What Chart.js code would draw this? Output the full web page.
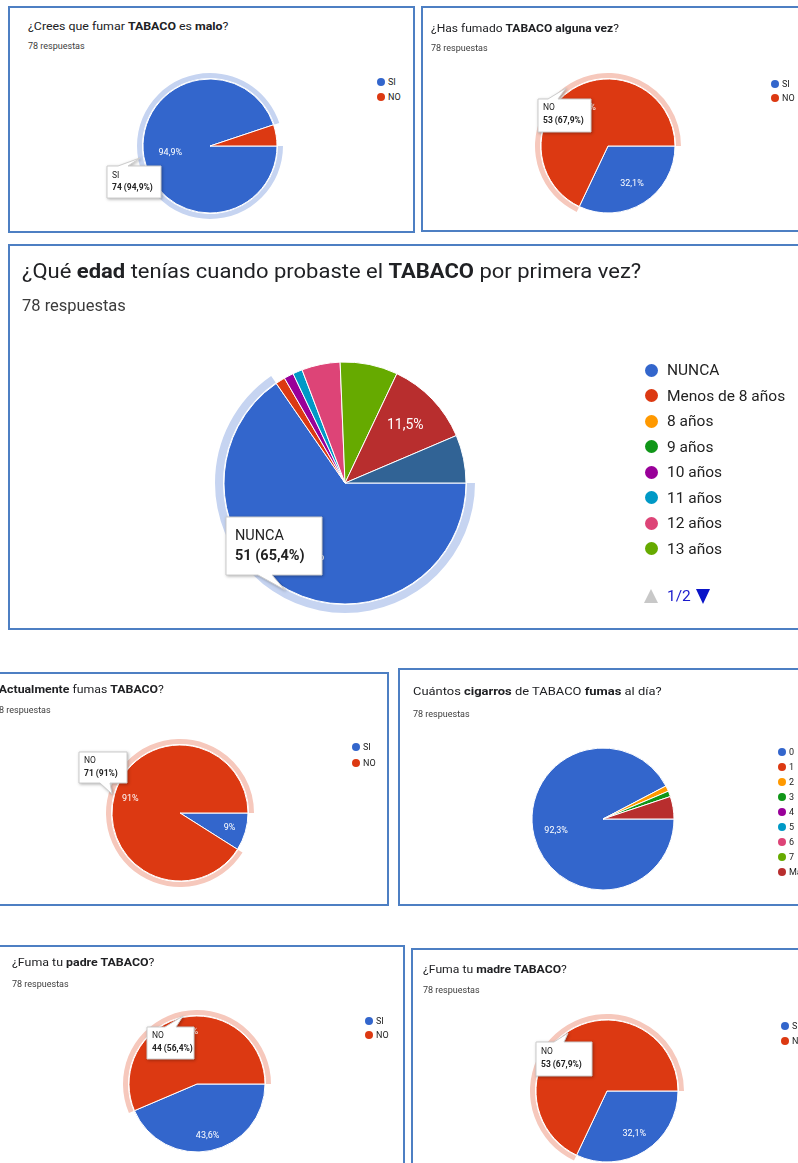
<!DOCTYPE html>
<html>
<head>
<meta charset="utf-8">
<script src="https://cdn.jsdelivr.net/npm/chart.js@4.4.1/dist/chart.umd.min.js"></script>
<style>
  html, body { margin: 0; padding: 0; background: #fff; }
  body { width: 798px; height: 1163px; overflow: hidden; position: relative; font-family: Roboto, Arial, sans-serif; color: #202124; }
  .panel { position: absolute; box-sizing: border-box; border: 2px solid #4d7fc3; background: #fff; }
  .title { position: absolute; white-space: nowrap; transform-origin: 0 50%; }
  .sub { position: absolute; white-space: nowrap; color: #3c3c3c; transform: translateY(-50%); }
  .leg { position: absolute; white-space: nowrap; color: #222; transform: translateY(-50%); }
  .dot { position: absolute; border-radius: 50%; }
  canvas { position: absolute; }
  svg.tip { position: absolute; left: 0; top: 0; overflow: visible; filter: drop-shadow(1px 1px 1.5px rgba(0,0,0,0.3)); }
</style>
</head>
<body>
<script>
// Data
const siNo = ["SI", "NO"];
const maloValues = [74, 4];
const fumadoValues = [25, 53];
const edadLabels = ["NUNCA", "Menos de 8 años", "8 años", "9 años", "10 años", "11 años", "12 años", "13 años", "14 años", "15 años"];
const edadValues = [51, 1, 0, 0, 1, 1, 4, 6, 9, 5];
const actualValues = [7, 71];
const cigarrosLabels = ["0", "1", "2", "3", "4", "5", "6", "7", "Más de 7"];
const cigarrosValues = [72, 0, 1, 1, 0, 0, 0, 0, 4];
const padreValues = [34, 44];
const madreValues = [25, 53];
const titles = [
  "¿Crees que fumar <b>TABACO</b> es <b>malo</b>?",
  "¿Has fumado <b>TABACO alguna vez</b>?",
  "¿Qué <b>edad</b> tenías cuando probaste el <b>TABACO</b> por primera vez?",
  "¿<b>Actualmente</b> fumas <b>TABACO</b>?",
  "Cuántos <b>cigarros</b> de TABACO <b>fumas</b> al día?",
  "¿Fuma tu <b>padre TABACO</b>?",
  "¿Fuma tu <b>madre TABACO</b>?"
];
const respuestas = "78 respuestas";
const palette = ["#3366cc", "#dc3912", "#ff9900", "#109618", "#990099", "#0099c6", "#dd4477", "#66aa00", "#b82e2e", "#316395"];

const blueRing = "#c6d4f1", redRing = "#f6c8bc";

// Layout of each panel
const panels = [
  { box: [8, 6, 407, 227], title: titles[0], tx: 28, ty: 26, ts: 11, tw: 200, sy: 46, ss: 9,
    labels: siNo, values: maloValues,
    pie: { cx: 210, cy: 146, r: 67, ring: 0, ringW: 6, ringC: blueRing, lf: 0.6, fs: 9 },
    legend: { dx: 381, lx: 388, y: 82, step: 15, fs: 9, dr: 4.2, n: 2 },
    tip: { box: [107, 166, 54, 32], edge: "top", p: [118, 128, 140, 158], fs: 8.5, idx: 0, l1: 176, l2: 188 } },
  { box: [421, 6, 420, 226], title: titles[1], tx: 431, ty: 28, ts: 11, tw: 188, sy: 48, ss: 9,
    labels: siNo, values: fumadoValues,
    pie: { cx: 608, cy: 146, r: 67, ring: 1, ringW: 6, ringC: redRing, lf: 0.67, fs: 9 },
    legend: { dx: 775, lx: 782, y: 84, step: 14, fs: 9, dr: 4.2, n: 2 },
    tip: { box: [538, 99, 53, 33], edge: "top", p: [548, 558, 566, 88], fs: 8.5, idx: 1, l1: 108, l2: 121 } },
  { box: [8, 244, 820, 386], title: titles[2], tx: 22, ty: 271, ts: 20, tw: 619, sy: 305, ss: 16.5,
    labels: edadLabels, values: edadValues,
    pie: { cx: 345, cy: 483, r: 121, ring: 0, ringW: 9, ringC: blueRing, lf: 0.69, fs: 14 },
    legend: { dx: 651, lx: 667, y: 370, step: 25.5, fs: 15.5, dr: 6.5, n: 8 },
    tip: { box: [226, 517, 96, 58], edge: "bottom", p: [258, 272, 285, 590], fs: 14.5, idx: 0, l1: 536, l2: 556 } },
  { box: [-20, 672, 409, 234], title: titles[3], tx: -7, ty: 689, ts: 11, tw: 171, sy: 710, ss: 9, sx: -6,
    labels: siNo, values: actualValues,
    pie: { cx: 180, cy: 813, r: 68, ring: 1, ringW: 6, ringC: redRing, lf: 0.76, fs: 9 },
    legend: { dx: 356, lx: 363, y: 747, step: 16, fs: 9, dr: 4.2, n: 2 },
    tip: { box: [79, 752, 48, 31], edge: "bottom", p: [100, 110, 112, 794], fs: 8.5, idx: 1, l1: 761, l2: 774 } },
  { box: [398, 668, 420, 238], title: titles[4], tx: 413, ty: 691, ts: 11, tw: 248, sy: 714, ss: 9,
    labels: cigarrosLabels, values: cigarrosValues,
    pie: { cx: 603, cy: 819, r: 71, ring: -1, lf: 0.68, fs: 9 },
    legend: { dx: 782, lx: 789, y: 752, step: 15, fs: 9, dr: 4.2, n: 9 } },
  { box: [-20, 945, 425, 260], title: titles[5], tx: 12, ty: 962, ts: 11, tw: 143, sy: 984, ss: 9,
    labels: siNo, values: padreValues,
    pie: { cx: 197, cy: 1084, r: 68, ring: 1, ringW: 6, ringC: redRing, lf: 0.78, fs: 9 },
    legend: { dx: 369, lx: 376, y: 1021, step: 14, fs: 9, dr: 4.2, n: 2 },
    tip: { box: [147, 1027, 47, 32], edge: "top", p: [165, 176, 183, 1016], fs: 8.5, idx: 1, l1: 1036, l2: 1049 } },
  { box: [411, 948, 420, 260], title: titles[6], tx: 423, ty: 969, ts: 11, tw: 144, sy: 990, ss: 9,
    labels: siNo, values: madreValues,
    pie: { cx: 607, cy: 1091, r: 71, ring: 1, ringW: 6, ringC: redRing, lf: 0.72, fs: 9 },
    legend: { dx: 785, lx: 792, y: 1026, step: 15, fs: 9, dr: 4.2, n: 2 },
    tip: { box: [536, 1042, 56, 34], edge: "top", p: [554, 564, 568, 1033], fs: 8.5, idx: 1, l1: 1052, l2: 1065 } }
];

function pctText(v, total) {
  const p = Math.round(v / total * 1000) / 10;
  return String(p).replace(".", ",") + "%";
}

function add(tag, cls, css, html) {
  const el = document.createElement(tag);
  if (cls) el.className = cls;
  Object.assign(el.style, css);
  if (html !== undefined) el.innerHTML = html;
  document.body.appendChild(el);
  return el;
}

// ring + percentage labels, using the arc geometry from Chart.js
function piePlugin(p) {
  return {
    id: "gforms",
    beforeDatasetsDraw(chart) {
      if (p.ring < 0) return;
      const arc = chart.getDatasetMeta(0).data[p.ring];
      const { x, y, startAngle, endAngle, outerRadius } = arc.getProps(["x", "y", "startAngle", "endAngle", "outerRadius"], true);
      const ctx = chart.ctx;
      ctx.save();
      ctx.fillStyle = p.ringC;
      ctx.beginPath();
      ctx.arc(x, y, outerRadius + p.ringW, startAngle, endAngle);
      ctx.arc(x, y, outerRadius + 1, endAngle, startAngle, true);
      ctx.closePath();
      ctx.fill();
      ctx.restore();
    },
    afterDatasetsDraw(chart) {
      const ctx = chart.ctx;
      const vals = chart.data.datasets[0].data;
      const total = vals.reduce((a, b) => a + b, 0);
      ctx.save();
      ctx.fillStyle = "#fff";
      ctx.font = p.fs + "px Roboto, Arial, sans-serif";
      ctx.textAlign = "center";
      ctx.textBaseline = "middle";
      chart.getDatasetMeta(0).data.forEach((arc, i) => {
        if (vals[i] / total < 0.085) return;
        const { x, y, startAngle, endAngle, outerRadius } = arc.getProps(["x", "y", "startAngle", "endAngle", "outerRadius"], true);
        const mid = (startAngle + endAngle) / 2;
        ctx.fillText(pctText(vals[i], total), x + Math.cos(mid) * outerRadius * p.lf, y + Math.sin(mid) * outerRadius * p.lf);
      });
      ctx.restore();
    }
  };
}

function drawTip(t, labels, values) {
  const total = values.reduce((a, b) => a + b, 0);
  const [x, y, w, h] = t.box;
  const [p1, p2, tx, ty] = t.p;
  let pts;
  if (t.edge === "top") {
    pts = [[x, y], [p1, y], [tx, ty], [p2, y], [x + w, y], [x + w, y + h], [x, y + h]];
  } else {
    pts = [[x, y], [x + w, y], [x + w, y + h], [p2, y + h], [tx, ty], [p1, y + h], [x, y + h]];
  }
  const pad = Math.round(t.fs * 0.6);
  const svg = `<svg class="tip" width="798" height="1163">
    <polygon points="${pts.map(q => q.join(",")).join(" ")}" fill="#fff" stroke="#cccccc" stroke-width="1"/>
    <text x="${x + pad}" y="${t.l1}" dominant-baseline="middle" font-size="${t.fs}" fill="#222">${labels[t.idx]}</text>
    <text x="${x + pad}" y="${t.l2}" dominant-baseline="middle" font-size="${t.fs}" font-weight="bold" fill="#222">${values[t.idx]} (${pctText(values[t.idx], total)})</text>
  </svg>`;
  return add("div", "", { position: "absolute", left: "0", top: "0" }, svg);
}

panels.forEach(pn => {
  const [bx, by, bw, bh] = pn.box;
  add("div", "panel", { left: bx + "px", top: by + "px", width: bw + "px", height: bh + "px" });

  const t = add("div", "title", { left: pn.tx + "px", top: pn.ty + "px", fontSize: pn.ts + "px" }, pn.title);
  const sc = pn.tw / t.offsetWidth;
  t.style.transform = `translateY(-50%) scaleX(${sc})`;

  add("div", "sub", { left: (pn.sx !== undefined ? pn.sx : pn.tx) + "px", top: pn.sy + "px", fontSize: pn.ss + "px" }, respuestas);

  const p = pn.pie;
  const half = p.r + (p.ringW || 0) + 4;
  const cv = add("canvas", "", { left: (p.cx - half) + "px", top: (p.cy - half) + "px" });
  cv.width = half * 2;
  cv.height = half * 2;

  new Chart(cv, {
    type: "pie",
    data: {
      labels: pn.labels,
      datasets: [{
        data: pn.values,
        backgroundColor: palette.slice(0, pn.values.length),
        borderColor: "#fff",
        borderWidth: 1,
        hoverOffset: 0
      }]
    },
    options: {
      responsive: false,
      animation: false,
      events: [],
      rotation: 90,
      radius: p.r,
      layout: { padding: 0 },
      plugins: { legend: { display: false }, tooltip: { enabled: false } }
    },
    plugins: [piePlugin(p)]
  });

  const lg = pn.legend;
  pn.labels.slice(0, lg.n).forEach((lab, i) => {
    const yy = lg.y + i * lg.step;
    add("span", "dot", { left: (lg.dx - lg.dr) + "px", top: (yy - lg.dr) + "px", width: lg.dr * 2 + "px", height: lg.dr * 2 + "px", background: palette[i] });
    add("div", "leg", { left: lg.lx + "px", top: yy + "px", fontSize: lg.fs + "px" }, lab);
  });

  if (pn.tip) drawTip(pn.tip, pn.labels, pn.values);
});

// pager of the big legend
add("div", "", { position: "absolute", left: "644px", top: "589px", width: "0", height: "0",
  borderLeft: "7px solid transparent", borderRight: "7px solid transparent", borderBottom: "14px solid #c8c8c8" });
add("div", "leg", { left: "667px", top: "596px", fontSize: "15.5px", color: "#1a1acc" }, "1/2");
add("div", "", { position: "absolute", left: "696px", top: "589px", width: "0", height: "0",
  borderLeft: "7px solid transparent", borderRight: "7px solid transparent", borderTop: "15px solid #0a14c8" });
</script>
</body>
</html>
